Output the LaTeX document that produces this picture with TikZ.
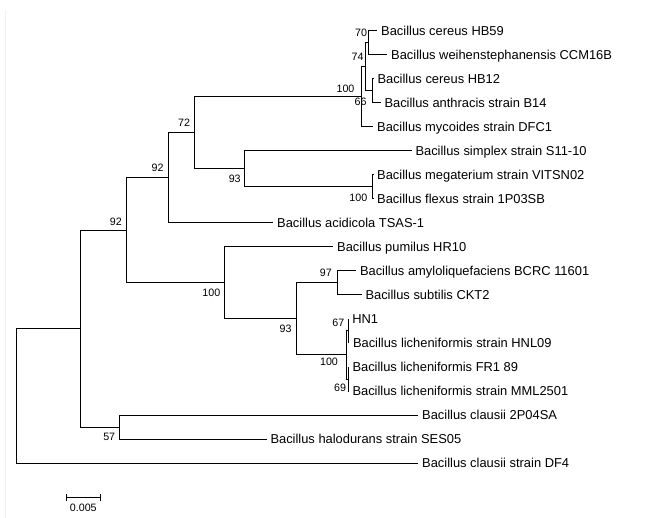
\documentclass[tikz,border=0pt]{standalone}
\usepackage{fontspec}
\setmainfont{Liberation Sans}
\definecolor{edgebeige}{RGB}{244,242,224}
\usetikzlibrary{positioning,calc}

\begin{document}
\begin{tikzpicture}[x=1pt, y=-1pt, line width=1pt,
    taxon/.style={anchor=west, inner xsep=3.5pt, inner ysep=0pt, text height=9.2pt, text depth=0pt, font=\fontsize{12.9}{14}\selectfont},
    boot/.style={inner sep=0pt, font=\fontsize{10.7}{12}\selectfont}]
    \fill[white] (0,0) rectangle (669,518);
    \useasboundingbox (0,0) rectangle (669,518);
    \draw[edgebeige] (5.5,10) -- (5.5,518);
    % leaves
    \foreach \n/\x/\y/\name in {
        hbA/377.2/31/Bacillus cereus HB59,
        weih/387.2/55/Bacillus weihenstephanensis CCM16B,
        hbB/373.5/79/Bacillus cereus HB12,
        anth/380.5/103/Bacillus anthracis strain B14,
        myco/373.2/127/Bacillus mycoides strain DFC1,
        simp/411.5/151/Bacillus simplex strain S11-10,
        mega/373.2/175/Bacillus megaterium strain VITSN02,
        flex/373.2/199/Bacillus flexus strain 1P03SB,
        acid/273.2/223/Bacillus acidicola TSAS-1,
        pumi/333.2/247/Bacillus pumilus HR10,
        amyl/356/271/Bacillus amyloliquefaciens BCRC 11601,
        subt/361.5/295/Bacillus subtilis CKT2,
        hn/348.3/319/HN1,
        hnl/349/343/Bacillus licheniformis strain HNL09,
        fr/348.5/367/Bacillus licheniformis FR1 89,
        mml/348.5/391/Bacillus licheniformis strain MML2501,
        claA/418.2/415/Bacillus clausii 2P04SA,
        halo/266.5/439/Bacillus halodurans strain SES05,
        claB/418.2/463/Bacillus clausii strain DF4} {
        \node[taxon] (\n) at (\x,\y) {\name};
    }
    % inner nodes
    \foreach \n/\x/\y in {
        n70/368/43, n66/372/91, n74/365/67, n100a/361/97,
        n100b/372.7/187, n93a/244.3/169, n72/194.3/133, n92a/168.3/178,
        n97/337.7/283, n67/348.3/331, n69/348.3/379, n100d/346/355,
        n93b/296/319, n100c/224.3/283, n92b/126.7/230.5, n57/119.3/427,
        nR1/80.7/328.75, root/16/395.9} {
        \coordinate (\n) at (\x,\y);
    }
    % branches
    \foreach \p/\c in {
        n70/hbA, n70/weih, n66/hbB, n66/anth, n74/n70, n74/n66,
        n100a/n74, n100a/myco, n100b/mega, n100b/flex, n93a/simp, n93a/n100b,
        n72/n100a, n72/n93a, n92a/n72, n92a/acid, n97/amyl, n97/subt,
        n67/hn, n67/hnl, n69/fr, n69/mml, n100d/n67, n100d/n69,
        n93b/n97, n93b/n100d, n100c/pumi, n100c/n93b, n92b/n92a, n92b/n100c,
        n57/claA, n57/halo, nR1/n92b, nR1/n57, root/nR1, root/claB} {
        \draw (\p) |- (\c);
    }
    % bootstrap values
    \foreach \n/\x/\y/\v in {
        b70/361/33/70, b74/357.5/56.7/74, b100a/345.5/89/100, b66/360.5/102/66,
        b72/184/123/72, b93a/234.7/179.3/93, b100b/358.3/198.3/100,
        b92a/157.5/168.3/92, b92b/115.8/221.7/92, b100c/211.3/293.3/100,
        b93b/285.5/329/93, b97/325.8/273.3/97, b67/338.3/323.3/67,
        b100d/329/362/100, b69/340/388.3/69, b57/109.2/437.3/57} {
        \node[boot] (\n) at (\x,\y) {\v};
    }
    % scale bar
    \coordinate (sbL) at (66.7,497.3);
    \coordinate (sbR) at (100,497.3);
    \draw (sbL) -- (sbR);
    \draw ([yshift=3.3pt]sbL) -- ([yshift=-3.3pt]sbL);
    \draw ([yshift=3.3pt]sbR) -- ([yshift=-3.3pt]sbR);
    \node[boot] (sbLabel) at (83.3,507.7) {0.005};
\end{tikzpicture}
\end{document}
